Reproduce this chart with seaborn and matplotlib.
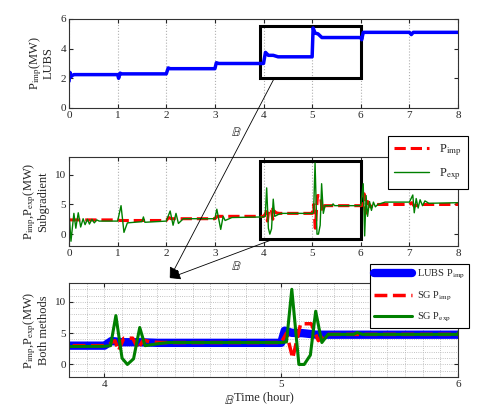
import numpy as np
import matplotlib
matplotlib.use('Agg')
import matplotlib.pyplot as plt
from matplotlib.patches import Rectangle, ConnectionPatch
import seaborn as sns

# LUBS import power (MW) vs time (hour)
t_lubs = [0, 0.02, 0.04, 0.07, 0.1, 1.0, 1.02, 1.05, 1.08, 2.0, 2.04, 2.08,
          3.0, 3.03, 3.08, 4.0, 4.04, 4.1, 4.2, 4.3, 5.0, 5.02, 5.06, 5.12, 5.2,
          6.0, 6.02, 6.05, 6.08, 7.0, 7.04, 7.08, 8.0]
p_lubs = [1.8, 2.4, 2.1, 2.2, 2.25, 2.25, 2.0, 2.35, 2.3, 2.3, 2.7, 2.65,
          2.65, 3.05, 3.0, 3.0, 3.75, 3.55, 3.55, 3.45, 3.45, 5.4, 5.05, 5.0, 4.75,
          4.75, 4.6, 5.1, 5.1, 5.1, 4.95, 5.1, 5.1]

# subgradient import power
t_imp = [0.0, 1.0, 1.05, 2.0, 2.05, 2.1, 3.0, 3.05, 4.0, 4.03, 4.06, 4.08, 4.11,
         4.16, 4.19, 4.22, 4.26, 4.32, 5.0, 5.03, 5.065, 5.11, 5.17, 5.21, 5.25,
         6.0, 6.04, 6.07, 6.1, 6.14, 6.2, 6.3, 7.0, 7.05, 7.1, 7.2, 8.0]
p_imp = [2.4, 2.4, 2.3, 2.3, 2.8, 2.6, 2.6, 3.0, 3.0, 3.3, 3.8, 2.2, 4.2,
         4.2, 2.5, 3.9, 3.6, 3.5, 3.5, 5.0, 1.0, 6.5, 6.5, 3.8, 4.8,
         4.8, 4.9, 6.8, 3.5, 5.5, 4.6, 5.0, 5.0, 5.3, 4.7, 5.0, 5.0]

# subgradient export power
t_exp = [0.0, 0.04, 0.1, 0.14, 0.19, 0.24, 0.29, 0.33, 0.38, 0.42, 0.47, 0.52,
         0.57, 0.62, 1.0, 1.07, 1.13, 1.2, 1.5, 1.53, 1.56, 2.0, 2.08, 2.14, 2.2,
         2.25, 2.35, 3.0, 3.04, 3.12, 3.17, 3.21, 3.35, 4.0, 4.035, 4.065, 4.1, 4.13,
         4.165, 4.2, 4.23, 4.3, 4.36, 5.0, 5.03, 5.06, 5.1, 5.13, 5.165, 5.195, 5.23,
         5.265, 5.41, 5.43, 5.46, 6.0, 6.05, 6.08, 6.11, 6.14, 6.18, 6.22, 6.26,
         6.3, 6.35, 6.5, 7.0, 7.07, 7.1, 7.14, 7.18, 7.22, 7.27, 7.32, 7.4, 8.0]
p_exp = [3.8, -1.2, 3.5, 1.0, 3.6, 1.2, 2.6, 1.6, 2.5, 1.7, 2.5, 1.9,
         2.4, 2.2, 2.2, 4.8, 0.3, 1.9, 2.1, 2.9, 2.0, 2.2, 3.9, 1.5, 3.5,
         1.8, 2.6, 2.6, 4.2, 0.8, 3.0, 2.3, 2.8, 2.9, 3.0, 7.8, 1.0, 0.0,
         0.9, 5.9, 3.0, 3.3, 3.5, 3.5, 3.6, 12.0, 0.0, 0.0, 1.5, 8.5, 3.5,
         4.8, 4.8, 5.1, 4.8, 4.8, 8.5, -0.3, 6.5, 3.0, 5.5, 4.0, 5.4,
         4.6, 5.0, 5.4, 5.4, 6.6, 3.6, 6.0, 4.4, 5.8, 4.8, 5.6, 5.2, 5.3]

sns.set_style('ticks')
plt.rcParams['font.family'] = ['Liberation Serif', 'DejaVu Serif']
plt.rcParams['mathtext.fontset'] = 'stix'
plt.rcParams['font.size'] = 8

fig = plt.figure(figsize=(4.84, 4.12), dpi=100)
ax1 = fig.add_axes([0.1426, 0.7379, 0.8037, 0.216])
ax2 = fig.add_axes([0.1426, 0.4029, 0.8037, 0.216])
ax3 = fig.add_axes([0.1426, 0.085, 0.8037, 0.228])

blue, red, green = '#0000ff', '#ff0000', '#008000'

sns.lineplot(x=t_lubs, y=p_lubs, ax=ax1, color=blue, linewidth=2.5)
ax1.set_xlim(0, 8)
ax1.set_ylim(0, 6)
ax1.set_yticks([0, 2, 4, 6])
ax1.set_ylabel('P$_{\\mathrm{imp}}$(MW)\nLUBS', fontsize=9, linespacing=0.9)

sns.lineplot(x=t_imp, y=p_imp, ax=ax2, color=red, linewidth=2.2, linestyle='--',
             label='P$_{\\mathrm{imp}}$')
sns.lineplot(x=t_exp, y=p_exp, ax=ax2, color=green, linewidth=1.0,
             label='P$_{\\mathrm{exp}}$')
ax2.set_xlim(0, 8)
ax2.set_ylim(-2, 13)
ax2.set_yticks([0, 5, 10])
ax2.set_ylabel('P$_{\\mathrm{imp}}$,P$_{\\mathrm{exp}}$(MW)\nSubgradient', fontsize=9,
               linespacing=0.9)

sns.lineplot(x=t_lubs, y=p_lubs, ax=ax3, color=blue, linewidth=6,
             label='LUBS P$_{\\mathrm{imp}}$')
sns.lineplot(x=t_imp, y=p_imp, ax=ax3, color=red, linewidth=2.5, linestyle='--',
             label='SG P$_{\\mathrm{imp}}$')
sns.lineplot(x=t_exp, y=p_exp, ax=ax3, color=green, linewidth=2.2,
             label='SG P$_{\\mathrm{exp}}$')
ax3.set_xlim(3.8, 6)
ax3.set_ylim(-2, 13)
ax3.set_xticks([4, 5, 6])
ax3.set_yticks([0, 5, 10])
ax3.set_xticks(np.arange(3.8, 6.01, 0.1), minor=True)
ax3.set_yticks(np.arange(-2, 13.1, 1), minor=True)
ax3.set_ylabel('P$_{\\mathrm{imp}}$,P$_{\\mathrm{exp}}$(MW)\nBoth methods', fontsize=9,
               linespacing=0.9)
ax3.set_xlabel('Time (hour)', fontsize=9, labelpad=2)
ax3.grid(which='minor', linestyle=':', color='#b0b0b0', linewidth=0.6)
ax3.grid(which='major', linestyle=':', color='#b0b0b0', linewidth=0.6)
ax3.tick_params(which='minor', length=0)

for ax in (ax1, ax2):
    ax.set_xticks(range(0, 9))
    ax.grid(axis='x', linestyle=':', color='#b0b0b0', linewidth=0.8)

for ax in (ax1, ax2, ax3):
    ax.tick_params(direction='in', top=True, right=True, length=3, labelsize=8, pad=2)
    for s in ax.spines.values():
        s.set_linewidth(0.8)
        s.set_color('#333333')

# legends
leg2 = ax2.legend(loc='upper right', bbox_to_anchor=(0.967, 0.670),
                  bbox_transform=fig.transFigure, fancybox=False, edgecolor='black',
                  framealpha=1, fontsize=9, handlelength=2.8, labelspacing=0.7,
                  borderpad=0.5, borderaxespad=0)
leg2.get_frame().set_linewidth(0.8)
leg3 = ax3.legend(loc='upper right', bbox_to_anchor=(0.969, 0.359),
                  bbox_transform=fig.transFigure, fancybox=False, edgecolor='black',
                  framealpha=1, fontsize=7.5, handlelength=3.6, labelspacing=0.8,
                  borderpad=0.4, borderaxespad=0, handletextpad=0.5)
leg3.get_frame().set_linewidth(0.8)

# zoom boxes and arrows
box_x = [3.93, 6.0]
box1_y = [2.0, 5.55]
box2_y = [-0.8, 12.25]
ax1.add_patch(Rectangle((box_x[0], box1_y[0]), box_x[1] - box_x[0], box1_y[1] - box1_y[0],
                        fill=False, edgecolor='black', linewidth=2.2, clip_on=False))
ax2.add_patch(Rectangle((box_x[0], box2_y[0]), box_x[1] - box_x[0], box2_y[1] - box2_y[0],
                        fill=False, edgecolor='black', linewidth=2.2, clip_on=False))

tip = (4.37, 13.8)
for ax, y0 in ((ax1, box1_y[0]), (ax2, box2_y[0])):
    con = ConnectionPatch(xyA=(4.22, y0), coordsA=ax.transData, xyB=tip,
                          coordsB=ax3.transData, arrowstyle='-|>', color='black',
                          linewidth=0.6, mutation_scale=16)
    fig.add_artist(con)

for xpix, ypix in ((236, 132), (236, 267), (229, 400)):
    fig.text(xpix / 484, 1 - ypix / 412, '$\\mathbb{B}$', fontsize=9, ha='center',
             va='center', color='#222222')

fig.savefig('out.png', dpi=100)
